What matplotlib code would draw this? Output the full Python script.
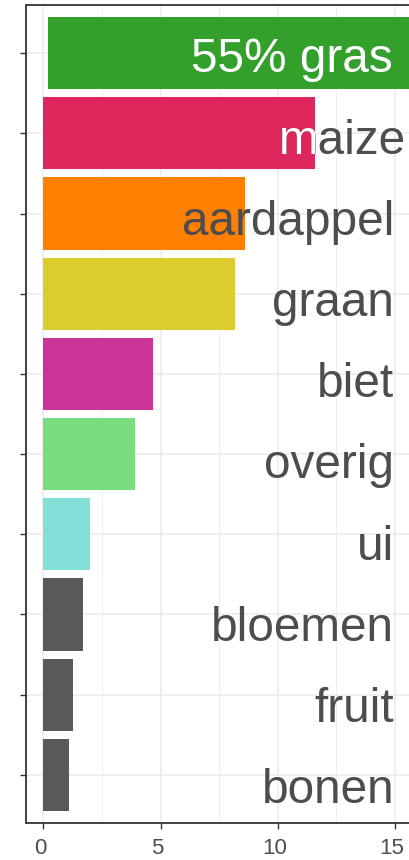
import matplotlib
matplotlib.use("Agg")
import matplotlib.pyplot as plt
import matplotlib.transforms as mtransforms
from matplotlib.ticker import MultipleLocator

# data (top to bottom)
crops = ["55% gras", "maize", "aardappel", "graan", "biet",
         "overig", "ui", "bloemen", "fruit", "bonen"]
shares = [15.9, 11.57, 8.62, 8.19, 4.69, 3.92, 1.99, 1.70, 1.27, 1.10]
bar_start = [0.2, 0, 0, 0, 0, 0, 0, 0, 0, 0]
colors = ["#33A02C", "#DC265C", "#FF7F00", "#DDCC2E", "#CC3399",
          "#77DD7F", "#82E0D8", "#595959", "#595959", "#595959"]

plt.rcParams["font.family"] = ["Liberation Sans", "DejaVu Sans"]

fig = plt.figure(figsize=(4.1, 8.6), dpi=100)
ax = fig.add_axes([26.5 / 410, 37 / 860, 392 / 410, 818 / 860])

ypos = list(range(len(crops)))
widths = [s - b for s, b in zip(shares, bar_start)]
bars = ax.barh(ypos, widths, left=bar_start, height=0.9, color=colors, zorder=2)

# labels inside the plot
for i, name in enumerate(crops):
    lx = 14.9 if i == 0 else (15.45 if name == "maize" else 14.97)
    col = "white" if i == 0 else "#4D4D4D"
    ly = i + 0.24 + 0.0125 * i
    ax.text(lx, ly, name, ha="right", va="baseline",
            fontsize=34.4, color=col, zorder=3)
    if name == "maize":
        # the part of the word on top of the bar shows white
        t = ax.text(lx, ly, name, ha="right", va="baseline",
                    fontsize=34.4, color="white", zorder=4, clip_on=True)
        t.set_clip_path(bars[i])

ax.set_xlim(-0.72, 16.0)
ax.set_ylim(9.6, -0.6)
ax.set_yticks(ypos)
ax.set_yticklabels([])
ax.xaxis.set_major_locator(MultipleLocator(5))
ax.xaxis.set_minor_locator(MultipleLocator(2.5))

ax.grid(which="major", color="#EBEBEB", linewidth=1.1, zorder=0)
ax.grid(which="minor", axis="x", color="#EBEBEB", linewidth=0.6, zorder=0)
ax.set_axisbelow(True)

for s in ax.spines.values():
    s.set_color("#333333")
    s.set_linewidth(1.3)
ax.tick_params(which="major", length=4.5, width=1.0, color="#333333",
               labelsize=16, labelcolor="#4D4D4D", pad=6)
ax.tick_params(which="minor", length=0)

shift = mtransforms.ScaledTranslation(-3.5 / 100, 0, fig.dpi_scale_trans)
for lab in ax.get_xticklabels():
    lab.set_transform(lab.get_transform() + shift)

fig.savefig("out.png", dpi=100)
plt.close(fig)
